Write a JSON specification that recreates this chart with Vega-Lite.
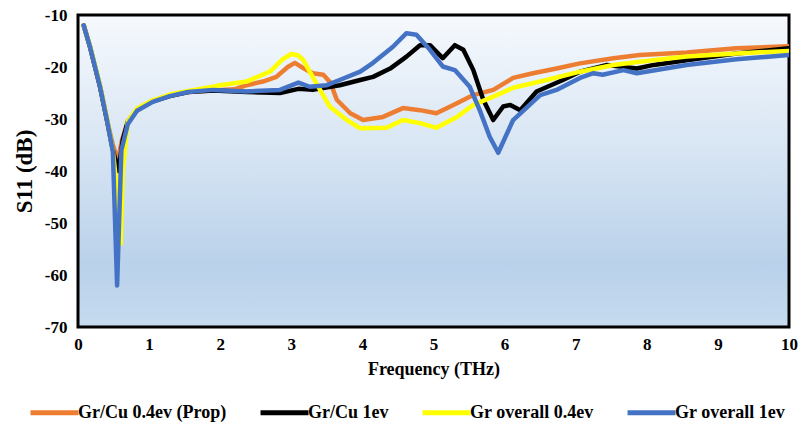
{
  "$schema": "https://vega.github.io/schema/vega-lite/v6.json",
  "autosize": {"type": "none"},
  "width": 711,
  "height": 312,
  "padding": {"left": 78, "top": 15, "right": 14, "bottom": 100},
  "background": "white",
  "config": {
    "view": {
      "stroke": "#000000",
      "strokeWidth": 3,
      "fill": {
        "gradient": "linear",
        "x1": 0, "y1": 0, "x2": 0, "y2": 1,
        "stops": [
          {"offset": 0, "color": "#f6f9fd"},
          {"offset": 0.45, "color": "#d6e4f3"},
          {"offset": 0.8, "color": "#b9d1ea"},
          {"offset": 1, "color": "#c6dbef"}
        ]
      }
    },
    "font": "Liberation Serif",
    "axis": {
      "grid": false,
      "domain": false,
      "ticks": false,
      "labelFlush": false,
      "labelFont": "Liberation Serif",
      "labelFontWeight": "bold",
      "labelColor": "#000000",
      "titleFont": "Liberation Serif",
      "titleFontWeight": "bold",
      "titleColor": "#000000"
    },
    "legend": {
      "labelFont": "Liberation Serif",
      "labelFontWeight": "bold",
      "labelFontSize": 18,
      "labelColor": "#000000"
    }
  },
  "data": {
    "values": [
      {"s": "Gr/Cu 0.4ev (Prop)", "f": 0.08, "v": -12},
      {"s": "Gr/Cu 0.4ev (Prop)", "f": 0.17, "v": -16.2},
      {"s": "Gr/Cu 0.4ev (Prop)", "f": 0.31, "v": -23.8},
      {"s": "Gr/Cu 0.4ev (Prop)", "f": 0.41, "v": -30.4},
      {"s": "Gr/Cu 0.4ev (Prop)", "f": 0.49, "v": -35},
      {"s": "Gr/Cu 0.4ev (Prop)", "f": 0.56, "v": -38},
      {"s": "Gr/Cu 0.4ev (Prop)", "f": 0.62, "v": -34},
      {"s": "Gr/Cu 0.4ev (Prop)", "f": 0.7, "v": -30.5},
      {"s": "Gr/Cu 0.4ev (Prop)", "f": 0.83, "v": -28.2},
      {"s": "Gr/Cu 0.4ev (Prop)", "f": 1.05, "v": -26.5},
      {"s": "Gr/Cu 0.4ev (Prop)", "f": 1.29, "v": -25.5},
      {"s": "Gr/Cu 0.4ev (Prop)", "f": 1.55, "v": -24.8},
      {"s": "Gr/Cu 0.4ev (Prop)", "f": 1.9, "v": -24.5},
      {"s": "Gr/Cu 0.4ev (Prop)", "f": 2.2, "v": -24.3},
      {"s": "Gr/Cu 0.4ev (Prop)", "f": 2.37, "v": -23.5},
      {"s": "Gr/Cu 0.4ev (Prop)", "f": 2.6, "v": -22.8},
      {"s": "Gr/Cu 0.4ev (Prop)", "f": 2.79, "v": -21.9},
      {"s": "Gr/Cu 0.4ev (Prop)", "f": 2.95, "v": -20},
      {"s": "Gr/Cu 0.4ev (Prop)", "f": 3.05, "v": -19.2},
      {"s": "Gr/Cu 0.4ev (Prop)", "f": 3.18, "v": -20.3},
      {"s": "Gr/Cu 0.4ev (Prop)", "f": 3.3, "v": -21.2},
      {"s": "Gr/Cu 0.4ev (Prop)", "f": 3.45, "v": -21.5},
      {"s": "Gr/Cu 0.4ev (Prop)", "f": 3.55, "v": -23},
      {"s": "Gr/Cu 0.4ev (Prop)", "f": 3.64, "v": -26.3},
      {"s": "Gr/Cu 0.4ev (Prop)", "f": 3.83, "v": -28.9},
      {"s": "Gr/Cu 0.4ev (Prop)", "f": 4.01, "v": -30.2},
      {"s": "Gr/Cu 0.4ev (Prop)", "f": 4.29, "v": -29.6},
      {"s": "Gr/Cu 0.4ev (Prop)", "f": 4.57, "v": -27.9},
      {"s": "Gr/Cu 0.4ev (Prop)", "f": 4.81, "v": -28.3},
      {"s": "Gr/Cu 0.4ev (Prop)", "f": 5.04, "v": -28.9},
      {"s": "Gr/Cu 0.4ev (Prop)", "f": 5.28, "v": -27.3},
      {"s": "Gr/Cu 0.4ev (Prop)", "f": 5.56, "v": -25.4},
      {"s": "Gr/Cu 0.4ev (Prop)", "f": 5.84, "v": -24.4},
      {"s": "Gr/Cu 0.4ev (Prop)", "f": 6.12, "v": -22.1},
      {"s": "Gr/Cu 0.4ev (Prop)", "f": 6.4, "v": -21.2},
      {"s": "Gr/Cu 0.4ev (Prop)", "f": 6.73, "v": -20.3},
      {"s": "Gr/Cu 0.4ev (Prop)", "f": 7.06, "v": -19.3},
      {"s": "Gr/Cu 0.4ev (Prop)", "f": 7.53, "v": -18.3},
      {"s": "Gr/Cu 0.4ev (Prop)", "f": 7.9, "v": -17.7},
      {"s": "Gr/Cu 0.4ev (Prop)", "f": 8.56, "v": -17.2},
      {"s": "Gr/Cu 0.4ev (Prop)", "f": 9.26, "v": -16.4},
      {"s": "Gr/Cu 0.4ev (Prop)", "f": 10, "v": -16},

      {"s": "Gr/Cu 1ev", "f": 0.08, "v": -12},
      {"s": "Gr/Cu 1ev", "f": 0.17, "v": -16.2},
      {"s": "Gr/Cu 1ev", "f": 0.31, "v": -23.8},
      {"s": "Gr/Cu 1ev", "f": 0.41, "v": -30.4},
      {"s": "Gr/Cu 1ev", "f": 0.49, "v": -36},
      {"s": "Gr/Cu 1ev", "f": 0.57, "v": -40},
      {"s": "Gr/Cu 1ev", "f": 0.63, "v": -34},
      {"s": "Gr/Cu 1ev", "f": 0.7, "v": -30.5},
      {"s": "Gr/Cu 1ev", "f": 0.83, "v": -28.3},
      {"s": "Gr/Cu 1ev", "f": 1.05, "v": -26.6},
      {"s": "Gr/Cu 1ev", "f": 1.29, "v": -25.6},
      {"s": "Gr/Cu 1ev", "f": 1.55, "v": -24.8},
      {"s": "Gr/Cu 1ev", "f": 1.9, "v": -24.5},
      {"s": "Gr/Cu 1ev", "f": 2.37, "v": -24.8},
      {"s": "Gr/Cu 1ev", "f": 2.84, "v": -25},
      {"s": "Gr/Cu 1ev", "f": 3.1, "v": -24.2},
      {"s": "Gr/Cu 1ev", "f": 3.3, "v": -24.4},
      {"s": "Gr/Cu 1ev", "f": 3.68, "v": -23.5},
      {"s": "Gr/Cu 1ev", "f": 3.97, "v": -22.5},
      {"s": "Gr/Cu 1ev", "f": 4.15, "v": -21.9},
      {"s": "Gr/Cu 1ev", "f": 4.39, "v": -20.3},
      {"s": "Gr/Cu 1ev", "f": 4.62, "v": -18},
      {"s": "Gr/Cu 1ev", "f": 4.81, "v": -15.8},
      {"s": "Gr/Cu 1ev", "f": 4.95, "v": -15.8},
      {"s": "Gr/Cu 1ev", "f": 5.13, "v": -18.3},
      {"s": "Gr/Cu 1ev", "f": 5.3, "v": -15.8},
      {"s": "Gr/Cu 1ev", "f": 5.42, "v": -16.7},
      {"s": "Gr/Cu 1ev", "f": 5.56, "v": -20.6},
      {"s": "Gr/Cu 1ev", "f": 5.7, "v": -26.3},
      {"s": "Gr/Cu 1ev", "f": 5.84, "v": -30.2},
      {"s": "Gr/Cu 1ev", "f": 5.98, "v": -27.6},
      {"s": "Gr/Cu 1ev", "f": 6.08, "v": -27.3},
      {"s": "Gr/Cu 1ev", "f": 6.22, "v": -28.3},
      {"s": "Gr/Cu 1ev", "f": 6.45, "v": -24.7},
      {"s": "Gr/Cu 1ev", "f": 6.82, "v": -22.5},
      {"s": "Gr/Cu 1ev", "f": 7.06, "v": -20.9},
      {"s": "Gr/Cu 1ev", "f": 7.44, "v": -19.6},
      {"s": "Gr/Cu 1ev", "f": 7.62, "v": -19.9},
      {"s": "Gr/Cu 1ev", "f": 7.86, "v": -20.3},
      {"s": "Gr/Cu 1ev", "f": 8.1, "v": -19.6},
      {"s": "Gr/Cu 1ev", "f": 8.56, "v": -18.7},
      {"s": "Gr/Cu 1ev", "f": 9.26, "v": -17.4},
      {"s": "Gr/Cu 1ev", "f": 10, "v": -16.4},

      {"s": "Gr overall 0.4ev", "f": 0.08, "v": -12},
      {"s": "Gr overall 0.4ev", "f": 0.17, "v": -16},
      {"s": "Gr overall 0.4ev", "f": 0.31, "v": -23.5},
      {"s": "Gr overall 0.4ev", "f": 0.41, "v": -30},
      {"s": "Gr overall 0.4ev", "f": 0.49, "v": -36},
      {"s": "Gr overall 0.4ev", "f": 0.55, "v": -44},
      {"s": "Gr overall 0.4ev", "f": 0.6, "v": -54},
      {"s": "Gr overall 0.4ev", "f": 0.63, "v": -40},
      {"s": "Gr overall 0.4ev", "f": 0.7, "v": -30.5},
      {"s": "Gr overall 0.4ev", "f": 0.83, "v": -28},
      {"s": "Gr overall 0.4ev", "f": 1.05, "v": -26.4},
      {"s": "Gr overall 0.4ev", "f": 1.29, "v": -25.3},
      {"s": "Gr overall 0.4ev", "f": 1.55, "v": -24.6},
      {"s": "Gr overall 0.4ev", "f": 1.9, "v": -23.8},
      {"s": "Gr overall 0.4ev", "f": 2.0, "v": -23.5},
      {"s": "Gr overall 0.4ev", "f": 2.37, "v": -22.8},
      {"s": "Gr overall 0.4ev", "f": 2.7, "v": -20.9},
      {"s": "Gr overall 0.4ev", "f": 2.88, "v": -18.5},
      {"s": "Gr overall 0.4ev", "f": 3.0, "v": -17.5},
      {"s": "Gr overall 0.4ev", "f": 3.1, "v": -17.8},
      {"s": "Gr overall 0.4ev", "f": 3.17, "v": -18.7},
      {"s": "Gr overall 0.4ev", "f": 3.35, "v": -23.1},
      {"s": "Gr overall 0.4ev", "f": 3.54, "v": -27.6},
      {"s": "Gr overall 0.4ev", "f": 3.78, "v": -30.2},
      {"s": "Gr overall 0.4ev", "f": 3.97, "v": -31.8},
      {"s": "Gr overall 0.4ev", "f": 4.34, "v": -31.7},
      {"s": "Gr overall 0.4ev", "f": 4.57, "v": -30.2},
      {"s": "Gr overall 0.4ev", "f": 4.81, "v": -30.8},
      {"s": "Gr overall 0.4ev", "f": 5.04, "v": -31.7},
      {"s": "Gr overall 0.4ev", "f": 5.33, "v": -29.6},
      {"s": "Gr overall 0.4ev", "f": 5.56, "v": -27.3},
      {"s": "Gr overall 0.4ev", "f": 5.84, "v": -25.7},
      {"s": "Gr overall 0.4ev", "f": 6.12, "v": -24},
      {"s": "Gr overall 0.4ev", "f": 6.59, "v": -22.5},
      {"s": "Gr overall 0.4ev", "f": 7.06, "v": -20.9},
      {"s": "Gr overall 0.4ev", "f": 7.53, "v": -19.6},
      {"s": "Gr overall 0.4ev", "f": 7.9, "v": -19},
      {"s": "Gr overall 0.4ev", "f": 8.56, "v": -18},
      {"s": "Gr overall 0.4ev", "f": 9.26, "v": -17.4},
      {"s": "Gr overall 0.4ev", "f": 10, "v": -16.9},

      {"s": "Gr overall 1ev", "f": 0.08, "v": -12},
      {"s": "Gr overall 1ev", "f": 0.17, "v": -16.2},
      {"s": "Gr overall 1ev", "f": 0.31, "v": -23.8},
      {"s": "Gr overall 1ev", "f": 0.41, "v": -30.4},
      {"s": "Gr overall 1ev", "f": 0.49, "v": -36.2},
      {"s": "Gr overall 1ev", "f": 0.55, "v": -62},
      {"s": "Gr overall 1ev", "f": 0.61, "v": -36},
      {"s": "Gr overall 1ev", "f": 0.7, "v": -31},
      {"s": "Gr overall 1ev", "f": 0.83, "v": -28.4},
      {"s": "Gr overall 1ev", "f": 1.05, "v": -26.7},
      {"s": "Gr overall 1ev", "f": 1.29, "v": -25.6},
      {"s": "Gr overall 1ev", "f": 1.55, "v": -24.8},
      {"s": "Gr overall 1ev", "f": 1.9, "v": -24.4},
      {"s": "Gr overall 1ev", "f": 2.37, "v": -24.7},
      {"s": "Gr overall 1ev", "f": 2.84, "v": -24.4},
      {"s": "Gr overall 1ev", "f": 3.1, "v": -23},
      {"s": "Gr overall 1ev", "f": 3.26, "v": -23.8},
      {"s": "Gr overall 1ev", "f": 3.5, "v": -23.5},
      {"s": "Gr overall 1ev", "f": 3.68, "v": -22.5},
      {"s": "Gr overall 1ev", "f": 3.97, "v": -20.9},
      {"s": "Gr overall 1ev", "f": 4.15, "v": -19.2},
      {"s": "Gr overall 1ev", "f": 4.43, "v": -16.1},
      {"s": "Gr overall 1ev", "f": 4.62, "v": -13.5},
      {"s": "Gr overall 1ev", "f": 4.76, "v": -13.8},
      {"s": "Gr overall 1ev", "f": 4.95, "v": -16.7},
      {"s": "Gr overall 1ev", "f": 5.13, "v": -19.9},
      {"s": "Gr overall 1ev", "f": 5.3, "v": -20.6},
      {"s": "Gr overall 1ev", "f": 5.51, "v": -23.8},
      {"s": "Gr overall 1ev", "f": 5.65, "v": -28.3},
      {"s": "Gr overall 1ev", "f": 5.79, "v": -33.4},
      {"s": "Gr overall 1ev", "f": 5.91, "v": -36.5},
      {"s": "Gr overall 1ev", "f": 6.12, "v": -30.2},
      {"s": "Gr overall 1ev", "f": 6.5, "v": -25.4},
      {"s": "Gr overall 1ev", "f": 6.73, "v": -24.4},
      {"s": "Gr overall 1ev", "f": 7.06, "v": -22.1},
      {"s": "Gr overall 1ev", "f": 7.25, "v": -21.2},
      {"s": "Gr overall 1ev", "f": 7.38, "v": -21.5},
      {"s": "Gr overall 1ev", "f": 7.67, "v": -20.6},
      {"s": "Gr overall 1ev", "f": 7.86, "v": -21.2},
      {"s": "Gr overall 1ev", "f": 8.56, "v": -19.6},
      {"s": "Gr overall 1ev", "f": 9.26, "v": -18.5},
      {"s": "Gr overall 1ev", "f": 10, "v": -17.7}
    ]
  },
  "mark": {"type": "line", "strokeWidth": 4.5, "strokeJoin": "round", "strokeCap": "round", "clip": true},
  "encoding": {
    "x": {
      "field": "f",
      "type": "quantitative",
      "scale": {"domain": [0, 10], "nice": false, "zero": false},
      "axis": {
        "title": "Frequency (THz)",
        "values": [0, 1, 2, 3, 4, 5, 6, 7, 8, 9, 10],
        "labelFontSize": 17,
        "labelPadding": 9,
        "titleFontSize": 18,
        "titlePadding": 8
      }
    },
    "y": {
      "field": "v",
      "type": "quantitative",
      "scale": {"domain": [-70, -10], "nice": false, "zero": false},
      "axis": {
        "title": "S11 (dB)",
        "values": [-70, -60, -50, -40, -30, -20, -10],
        "labelExpr": "'-' + abs(datum.value)",
        "labelFontSize": 17,
        "labelPadding": 11,
        "titleFontSize": 23,
        "titlePadding": 8
      }
    },
    "color": {
      "field": "s",
      "type": "nominal",
      "sort": null,
      "scale": {
        "domain": ["Gr/Cu 0.4ev (Prop)", "Gr/Cu 1ev", "Gr overall 0.4ev", "Gr overall 1ev"],
        "range": ["#ed7d31", "#000000", "#ffff00", "#4472c4"]
      },
      "legend": {
        "title": null,
        "orient": "none",
        "direction": "horizontal",
        "legendX": -50,
        "legendY": 371,
        "symbolType": "stroke",
        "symbolSize": 2300,
        "symbolStrokeWidth": 5,
        "labelOffset": -3,
        "columnPadding": 23
      }
    }
  }
}
